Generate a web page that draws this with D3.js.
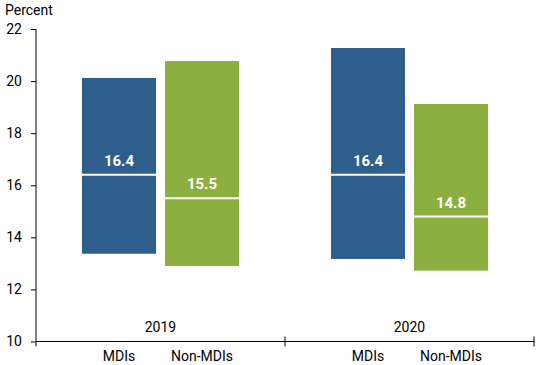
<!DOCTYPE html>
<html>
<script src='https://cdn.jsdelivr.net/npm/d3@7'></script>
<style>
body { margin: 0; background: #fff; }
text { font-family: Roboto, "Liberation Sans", sans-serif; }
</style>
<body>
<svg width=550 height=365></svg>
<script>

// data
var years = ["2019", "2020"];
var groups = ["MDIs", "Non-MDIs"];
// per year, per group: low, high, median
var lows    = [[13.37, 12.90], [13.17, 12.72]];
var highs   = [[20.12, 20.77], [21.27, 19.12]];
var medians = [[16.4, 15.5], [16.4, 14.8]];
var yTicks = [10, 12, 14, 16, 18, 20, 22];

var colors = {"MDIs": "#2e5e8b", "Non-MDIs": "#8cb040"};

var plotLeft = 36, plotRight = 534, plotTop = 29, plotBottom = 341.5;

var svg = d3.select("svg");

var y = d3.scaleLinear().domain([10, 22]).range([plotBottom, plotTop]);
var x0 = d3.scaleBand().domain(years).range([plotLeft, plotRight]).padding(0);
var x1 = d3.scaleBand().domain(groups).range([0, x0.bandwidth()])
    .paddingInner(0.108).paddingOuter(0.554);

var data = [];
years.forEach(function(yr, i) {
  groups.forEach(function(g, j) {
    data.push({year: yr, group: g, lo: lows[i][j], hi: highs[i][j], med: medians[i][j]});
  });
});

// y axis
var yAxis = svg.append("g")
    .attr("transform", "translate(" + plotLeft + ",0)")
    .call(d3.axisLeft(y).tickValues(yTicks).tickSize(5).tickPadding(9));
yAxis.select(".domain").attr("d", "M0," + plotTop + "V" + plotBottom).attr("stroke", "#000");
yAxis.selectAll(".tick line").attr("stroke", "#000");
yAxis.selectAll(".tick text").attr("font-size", 14).attr("fill", "#000")
    .style("font-family", "Roboto, sans-serif");

svg.append("text")
    .attr("x", 5).attr("y", 15)
    .attr("font-size", 14)
    .text("Percent");

// bars
var bars = svg.append("g").selectAll("g")
    .data(data).enter().append("g");

bars.append("rect")
    .attr("x", function(d) { return x0(d.year) + x1(d.group); })
    .attr("y", function(d) { return y(d.hi); })
    .attr("width", x1.bandwidth())
    .attr("height", function(d) { return y(d.lo) - y(d.hi); })
    .attr("fill", function(d) { return colors[d.group]; });

bars.append("line")
    .attr("x1", function(d) { return x0(d.year) + x1(d.group); })
    .attr("x2", function(d) { return x0(d.year) + x1(d.group) + x1.bandwidth(); })
    .attr("y1", function(d) { return y(d.med); })
    .attr("y2", function(d) { return y(d.med); })
    .attr("stroke", "#fff")
    .attr("stroke-width", 2);

bars.append("text")
    .attr("x", function(d) { return x0(d.year) + x1(d.group) + x1.bandwidth() / 2; })
    .attr("y", function(d) { return y(d.med) - 9; })
    .attr("text-anchor", "middle")
    .attr("font-size", 15)
    .attr("font-weight", "bold")
    .attr("fill", "#fff")
    .text(function(d) { return d.med.toFixed(1); });

// x axis
var xa = svg.append("g");
xa.append("line")
    .attr("x1", plotLeft).attr("x2", plotRight)
    .attr("y1", plotBottom).attr("y2", plotBottom)
    .attr("stroke", "#000");
xa.selectAll(".sep")
    .data(years.concat(["end"]))
    .enter().append("line")
    .attr("x1", function(d) { return d === "end" ? plotRight : x0(d); })
    .attr("x2", function(d) { return d === "end" ? plotRight : x0(d); })
    .attr("y1", function(d, i) { return i === 0 ? plotBottom : plotBottom - 5; })
    .attr("y2", plotBottom + 5)
    .attr("stroke", "#000");

xa.selectAll(".yr")
    .data(years).enter().append("text")
    .attr("x", function(d) { return x0(d) + x0.bandwidth() / 2; })
    .attr("y", 332)
    .attr("text-anchor", "middle")
    .attr("font-size", 14)
    .text(function(d) { return d; });

xa.selectAll(".cat")
    .data(data).enter().append("text")
    .attr("x", function(d) { return x0(d.year) + x1(d.group) + x1.bandwidth() / 2; })
    .attr("y", 360.5)
    .attr("text-anchor", "middle")
    .attr("font-size", 14)
    .text(function(d) { return d.group; });

</script>
</body>
</html>
